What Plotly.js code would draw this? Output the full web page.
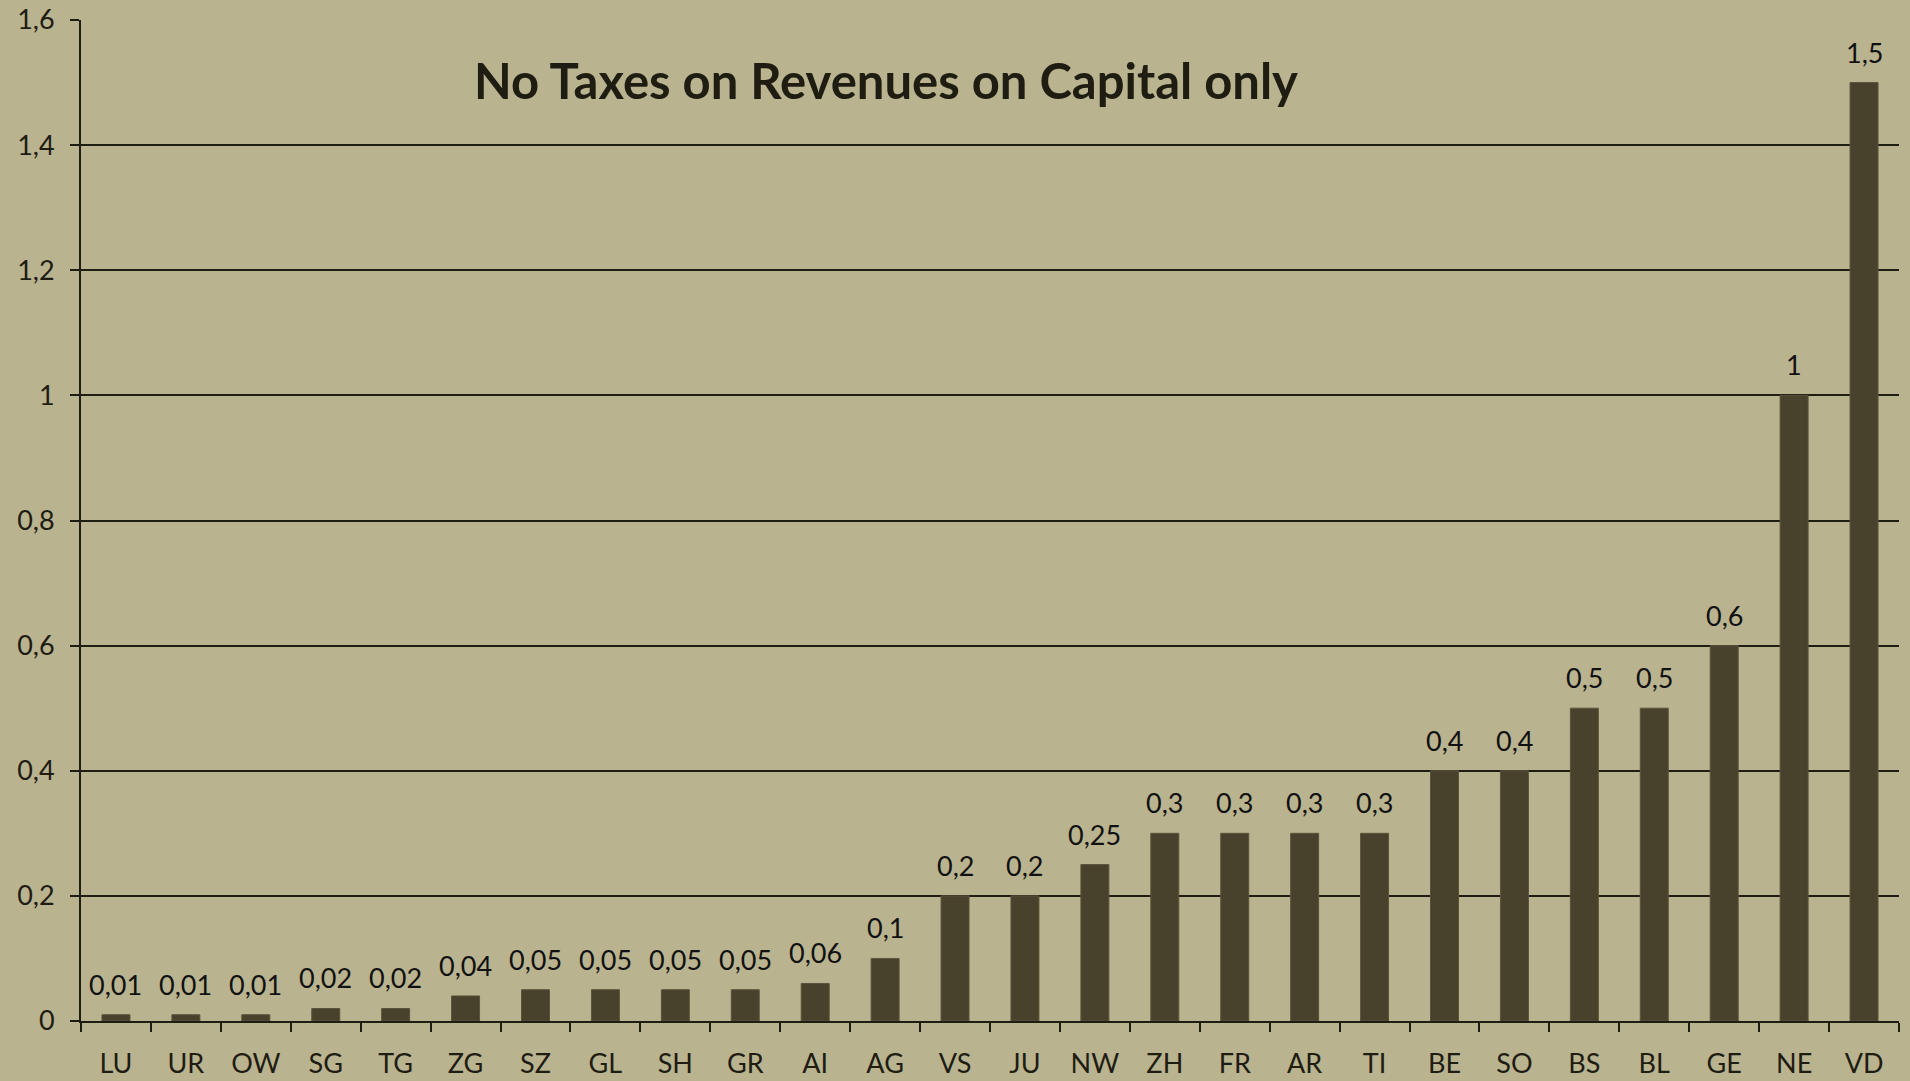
<!DOCTYPE html>
<html>
<head>
<meta charset="utf-8">
<script src="https://cdn.plot.ly/plotly-3.0.1.min.js"></script>
<style>html,body{margin:0;padding:0;background:#b9b38f;}#chart{width:1910px;height:1081px;}</style>
</head>
<body>
<div id="chart"></div>
<script>
const cantons = ["LU","UR","OW","SG","TG","ZG","SZ","GL","SH","GR","AI","AG","VS","JU","NW","ZH","FR","AR","TI","BE","SO","BS","BL","GE","NE","VD"];
const values = [0.01,0.01,0.01,0.02,0.02,0.04,0.05,0.05,0.05,0.05,0.06,0.1,0.2,0.2,0.25,0.3,0.3,0.3,0.3,0.4,0.4,0.5,0.5,0.6,1,1.5];
const yTicks = [0,0.2,0.4,0.6,0.8,1,1.2,1.4,1.6];
const chartTitle = "No Taxes on Revenues on Capital only";

const bg = "#b9b38f";
const ink = "#1f1c12";
const barColor = "#48412b";
const fontFam = "Lato, 'Open Sans', sans-serif";

const labels = values.map(v => String(v).replace(".", ","));

const annotations = cantons.map((c, i) => ({
  x: c, y: values[i], xref: "x", yref: "y",
  text: labels[i], showarrow: false, yanchor: "bottom", yshift: 12,
  font: {family: fontFam, size: 27, color: "#111"}
}));

const data = [{
  type: "bar",
  x: cantons,
  y: values,
  marker: {color: barColor, line: {color: "#5a543c", width: 1}},
  hoverinfo: "x+y"
}];

const layout = {
  width: 1910, height: 1081,
  paper_bgcolor: bg, plot_bgcolor: bg,
  margin: {l: 81, r: 11, t: 20, b: 60, pad: 0},
  separators: ", ",
  bargap: 0.6,
  showlegend: false,
  font: {family: fontFam, color: ink},
  title: {
    text: "<b>" + chartTitle + "</b>",
    x: 886/1910, xanchor: "center", xref: "container",
    y: 1 - 82/1081, yanchor: "middle", yref: "container",
    font: {family: fontFam, size: 49, color: ink}
  },
  xaxis: {
    type: "category",
    showline: true, linecolor: ink, linewidth: 2,
    ticks: "outside", tickson: "boundaries", ticklen: 9, tickwidth: 2, tickcolor: ink,
    showgrid: false, zeroline: false,
    tickfont: {family: fontFam, size: 27, color: ink},
    ticklabelstandoff: 18,
    automargin: false
  },
  yaxis: {
    range: [0, 1.6],
    tickvals: yTicks,
    showline: true, linecolor: ink, linewidth: 2,
    ticks: "outside", ticklen: 9, tickwidth: 2, tickcolor: ink,
    showgrid: true, gridcolor: ink, gridwidth: 2,
    zeroline: false,
    tickfont: {family: fontFam, size: 27, color: ink},
    ticklabelstandoff: 10,
    automargin: false,
    fixedrange: true
  },
  annotations: annotations
};

Plotly.newPlot("chart", data, layout, {displayModeBar: false, staticPlot: true});
</script>
</body>
</html>
